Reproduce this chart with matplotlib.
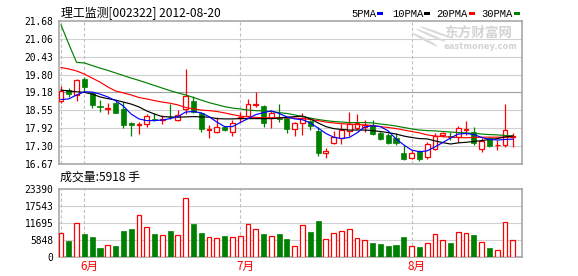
import matplotlib
matplotlib.use("Agg")
import matplotlib.pyplot as plt
from matplotlib.patches import Rectangle, Ellipse
import numpy as np

# ---------------------------------------------------------------------------
# Data (2012-05-29 .. 2012-08-20)
# ---------------------------------------------------------------------------
TITLE = "理工监测[002322] 2012-08-20"
VOL_TITLE = "成交量:5918 手"

OPEN = [18.87, 19.26, 19.08, 19.66, 19.15, 18.71, 18.60, 18.82, 18.61, 18.10,
        18.05, 18.06, 18.24, 18.20, 18.33, 18.21, 18.59, 18.88, 18.45, 17.86,
        17.80, 17.98, 17.78, 18.28, 18.36, 18.73, 18.70, 18.27, 18.27, 18.27,
        17.89, 18.09, 18.18, 17.83, 17.07, 17.42, 17.59, 17.83, 17.93, 17.98,
        18.05, 17.74, 17.69, 17.57, 17.04, 16.87, 17.12, 16.90, 17.21, 17.68,
        17.64, 17.63, 17.86, 17.79, 17.18, 17.57, 17.32, 17.34, 17.62]
HIGH = [19.40, 19.32, 19.65, 19.71, 19.20, 18.91, 18.80, 18.91, 18.85, 18.15,
        18.15, 18.41, 18.45, 18.38, 18.77, 18.56, 19.99, 19.05, 18.49, 18.03,
        18.31, 18.00, 18.21, 18.50, 18.94, 19.20, 18.74, 18.54, 18.76, 18.33,
        18.15, 18.45, 18.21, 17.98, 17.22, 17.83, 18.07, 18.50, 18.42, 18.20,
        18.22, 17.83, 17.74, 17.74, 17.34, 17.16, 17.16, 17.45, 17.74, 17.80,
        17.80, 18.00, 18.17, 17.95, 17.57, 17.63, 17.51, 18.77, 17.74]
LOW = [18.81, 19.01, 18.89, 19.24, 18.62, 18.50, 18.42, 18.45, 17.92, 17.65,
       17.73, 17.98, 18.19, 18.07, 18.26, 18.19, 18.43, 18.47, 17.79, 17.57,
       17.77, 17.83, 17.65, 18.15, 18.31, 18.66, 17.96, 17.92, 18.15, 17.77,
       17.65, 17.69, 17.86, 16.96, 16.87, 17.36, 17.37, 17.65, 17.88, 17.79,
       17.69, 17.51, 17.37, 17.33, 16.81, 16.84, 16.79, 16.86, 17.16, 17.63,
       17.52, 17.45, 17.69, 17.34, 17.10, 17.26, 17.16, 17.28, 17.28]
CLOSE = [19.24, 19.12, 19.61, 19.36, 18.73, 18.66, 18.62, 18.47, 18.03, 18.05,
         18.08, 18.36, 18.22, 18.23, 18.30, 18.37, 19.05, 18.50, 17.89, 17.88,
         17.96, 17.86, 18.12, 18.31, 18.77, 18.76, 18.10, 18.47, 18.25, 17.89,
         18.10, 18.29, 18.00, 17.04, 17.12, 17.63, 17.86, 18.07, 18.11, 18.02,
         17.72, 17.56, 17.42, 17.39, 16.84, 17.06, 16.86, 17.37, 17.65, 17.74,
         17.62, 17.92, 17.88, 17.39, 17.49, 17.30, 17.34, 17.86, 17.65]
VOLUME = [8256, 5607, 11696, 8015, 6983, 3200, 4128, 3887, 9047, 9735,
          14448, 10320, 8015, 7568, 9047, 7568, 20296, 11455, 8359, 6880,
          6536, 7327, 6880, 7224, 11352, 9632, 8015, 7224, 8015, 6295,
          3784, 11008, 8703, 12487, 6192, 8256, 8944, 9632, 6536, 5848,
          4919, 4575, 3887, 4231, 6983, 3784, 3543, 4919, 7912, 5848,
          4919, 8600, 8256, 7568, 5160, 3096, 2408, 12040, 5918]

MA5 = [18.93, 18.95, 19.09, 19.20, 19.19, 19.12, 19.02, 18.89, 18.70, 18.42,
       18.25, 18.19, 18.19, 18.21, 18.26, 18.33, 18.49, 18.51, 18.46, 18.33,
       18.14, 17.98, 17.98, 18.12, 18.26, 18.40, 18.47, 18.53, 18.44, 18.32,
       18.25, 18.22, 18.11, 17.93, 17.74, 17.61, 17.56, 17.60, 17.76, 17.97,
       18.01, 17.98, 17.83, 17.55, 17.34, 17.16, 17.10, 17.13, 17.27, 17.42,
       17.58, 17.72, 17.74, 17.70, 17.60, 17.53, 17.51, 17.53, 17.54]
MA10 = [19.26, 19.23, 19.20, 19.18, 19.12, 19.02, 18.96, 18.91, 18.84, 18.77,
        18.67, 18.53, 18.42, 18.33, 18.32, 18.31, 18.32, 18.33, 18.32, 18.31,
        18.26, 18.25, 18.25, 18.26, 18.26, 18.26, 18.26, 18.26, 18.28, 18.31,
        18.33, 18.35, 18.25, 18.11, 17.98, 17.91, 17.88, 17.86, 17.86, 17.86,
        17.84, 17.81, 17.77, 17.72, 17.65, 17.60, 17.56, 17.55, 17.48, 17.42,
        17.37, 17.41, 17.43, 17.46, 17.49, 17.53, 17.56, 17.62, 17.65]
MA20 = [20.05, 20.00, 19.93, 19.82, 19.68, 19.54, 19.37, 19.23, 19.16, 19.09,
        19.00, 18.95, 18.89, 18.84, 18.80, 18.74, 18.65, 18.60, 18.56, 18.54,
        18.51, 18.46, 18.40, 18.35, 18.32, 18.30, 18.29, 18.29, 18.29, 18.29,
        18.28, 18.26, 18.23, 18.19, 18.14, 18.11, 18.08, 18.07, 18.05, 18.04,
        18.02, 17.98, 17.95, 17.91, 17.86, 17.81, 17.76, 17.69, 17.65, 17.63,
        17.61, 17.60, 17.59, 17.60, 17.61, 17.61, 17.61, 17.61, 17.61]
MA30 = [21.54, 20.87, 20.23, 20.21, 20.12, 20.03, 19.95, 19.86, 19.77, 19.68,
        19.60, 19.51, 19.42, 19.33, 19.24, 19.16, 19.09, 19.00, 18.91, 18.82,
        18.75, 18.68, 18.63, 18.60, 18.56, 18.54, 18.53, 18.51, 18.47, 18.44,
        18.39, 18.33, 18.28, 18.23, 18.19, 18.16, 18.14, 18.12, 18.12, 18.12,
        18.11, 18.07, 18.04, 18.00, 17.95, 17.90, 17.86, 17.84, 17.83, 17.81,
        17.79, 17.77, 17.76, 17.74, 17.72, 17.70, 17.69, 17.67, 17.65]

MA_NAMES = ["5PMA", "10PMA", "20PMA", "30PMA"]
MA_COLORS = ["#0000ff", "#000000", "#ff0000", "#008000"]

PRICE_TICKS = [16.67, 17.30, 17.92, 18.55, 19.18, 19.80, 20.43, 21.06, 21.68]
VOL_TICKS = [0, 5848, 11695, 17543, 23390]

MONTH_LINES = [0, 3, 23, 45]       # first bar of each month (dashed lines)
MONTH_LABEL_AT = [3, 23, 45]
MONTH_LABELS = ["6月", "7月", "8月"]

# ---------------------------------------------------------------------------
# Style
# ---------------------------------------------------------------------------
UP = "#ff0000"
DOWN = "#008000"
FRAME = "#a0a0a0"
GRID = "#d0d0d0"
W, H = 578, 276
CJK = ["Noto Sans CJK SC", "DejaVu Sans"]
TICK_FONT = "DejaVu Sans Mono"


def px(x, y):
    """pixel (from top-left) -> figure fraction"""
    return x / W, 1 - y / H


fig = plt.figure(figsize=(W / 100, H / 100), dpi=100, facecolor="white")
ax = fig.add_axes([59 / W, 1 - 164 / H, 463 / W, 143 / H])
axv = fig.add_axes([59 / W, 1 - 257.3 / H, 463 / W, 68 / H])

n = len(CLOSE)
x = np.arange(n)
o = np.array(OPEN)
c = np.array(CLOSE)
up = c >= o
cols = np.where(up, UP, DOWN)

for a in (ax, axv):
    a.set_xlim(-0.26, 59.18)
    for s in a.spines.values():
        s.set_color(FRAME)
        s.set_linewidth(1.1)
    for m in MONTH_LINES:
        a.axvline(m, color="#c0c0c0", linestyle=(0, (3, 2)), linewidth=0.8, zorder=1)
    a.tick_params(length=0, pad=4, labelsize=6.9, colors="black")

# --- price panel ----------------------------------------------------------
ax.set_ylim(PRICE_TICKS[0], PRICE_TICKS[-1])
ax.set_yticks(PRICE_TICKS)
ax.set_yticklabels([f"{t:.2f}" for t in PRICE_TICKS], family=TICK_FONT)
ax.set_xticks([])
for i, t in enumerate(PRICE_TICKS[1:-1], start=1):
    ax.axhline(t, color=FRAME if i == 4 else GRID, linewidth=0.8, zorder=0)

ax.vlines(x, LOW, HIGH, colors=cols, linewidth=0.9, zorder=2)
bottom = np.minimum(o, c)
height = np.maximum(np.abs(c - o), 0.012)
ax.bar(x[up], height[up], bottom=bottom[up], width=0.62, facecolor="white",
       edgecolor=UP, linewidth=0.9, zorder=3)
ax.bar(x[~up], height[~up], bottom=bottom[~up], width=0.66, facecolor=DOWN,
       edgecolor=DOWN, linewidth=0.5, zorder=3)

for vals, col in zip([MA30, MA20, MA10, MA5], MA_COLORS[::-1]):
    ax.plot(x, vals, color=col, linewidth=0.85, zorder=4)

# watermark
ax.text(0.906, 0.918, "东方财富网", transform=ax.transAxes, ha="center", va="center",
        fontsize=9.8, fontweight="bold", color="#d4d4d4", family=CJK, zorder=0)
ax.text(0.910, 0.822, "eastmoney.com", transform=ax.transAxes, ha="center", va="center",
        fontsize=6.0, fontweight="bold", color="#d4d4d4", zorder=0)
for dx, dy, ang in [(0.790, 0.87, 60), (0.803, 0.90, 55), (0.815, 0.92, 50)]:
    ax.add_patch(Ellipse((dx, dy), 0.010, 0.11, angle=-ang + 90, transform=ax.transAxes,
                         facecolor="#d8d8d8", edgecolor="none", zorder=0))

# --- volume panel ---------------------------------------------------------
axv.set_ylim(VOL_TICKS[0], VOL_TICKS[-1])
axv.set_yticks(VOL_TICKS)
axv.set_yticklabels([str(t) for t in VOL_TICKS], family=TICK_FONT)
for t in VOL_TICKS[1:-1]:
    axv.axhline(t, color=GRID, linewidth=0.8, zorder=0)
vol = np.array(VOLUME)
axv.bar(x[up], vol[up], width=0.62, facecolor="white", edgecolor=UP, linewidth=0.9, zorder=3)
axv.bar(x[~up], vol[~up], width=0.66, facecolor=DOWN, edgecolor=DOWN, linewidth=0.5, zorder=3)
axv.set_xticks(np.array(MONTH_LABEL_AT) + 0.7)
axv.set_xticklabels(MONTH_LABELS, family=CJK, fontsize=8.4, color=UP)
axv.tick_params(axis="x", pad=2)

# --- titles and legend ----------------------------------------------------
fig.text(*px(61, 13.5), TITLE, ha="left", va="center", fontsize=8.6, family=CJK)
fig.text(*px(60, 176.7), VOL_TITLE, ha="left", va="center", fontsize=8.6, family=CJK)

label_x = [351.7, 392, 436.7, 481.7]
box_x = [377, 424, 469, 514]
for name, col, lx, bx in zip(MA_NAMES, MA_COLORS, label_x, box_x):
    fig.text(*px(lx, 13.8), name, ha="left", va="center", fontsize=7.6,
             family="Liberation Mono")
    fig.add_artist(Rectangle(px(bx, 15), 5.5 / W, 3 / H, transform=fig.transFigure,
                             facecolor=col, edgecolor="none"))

fig.savefig("out.png", dpi=100, facecolor="white")
